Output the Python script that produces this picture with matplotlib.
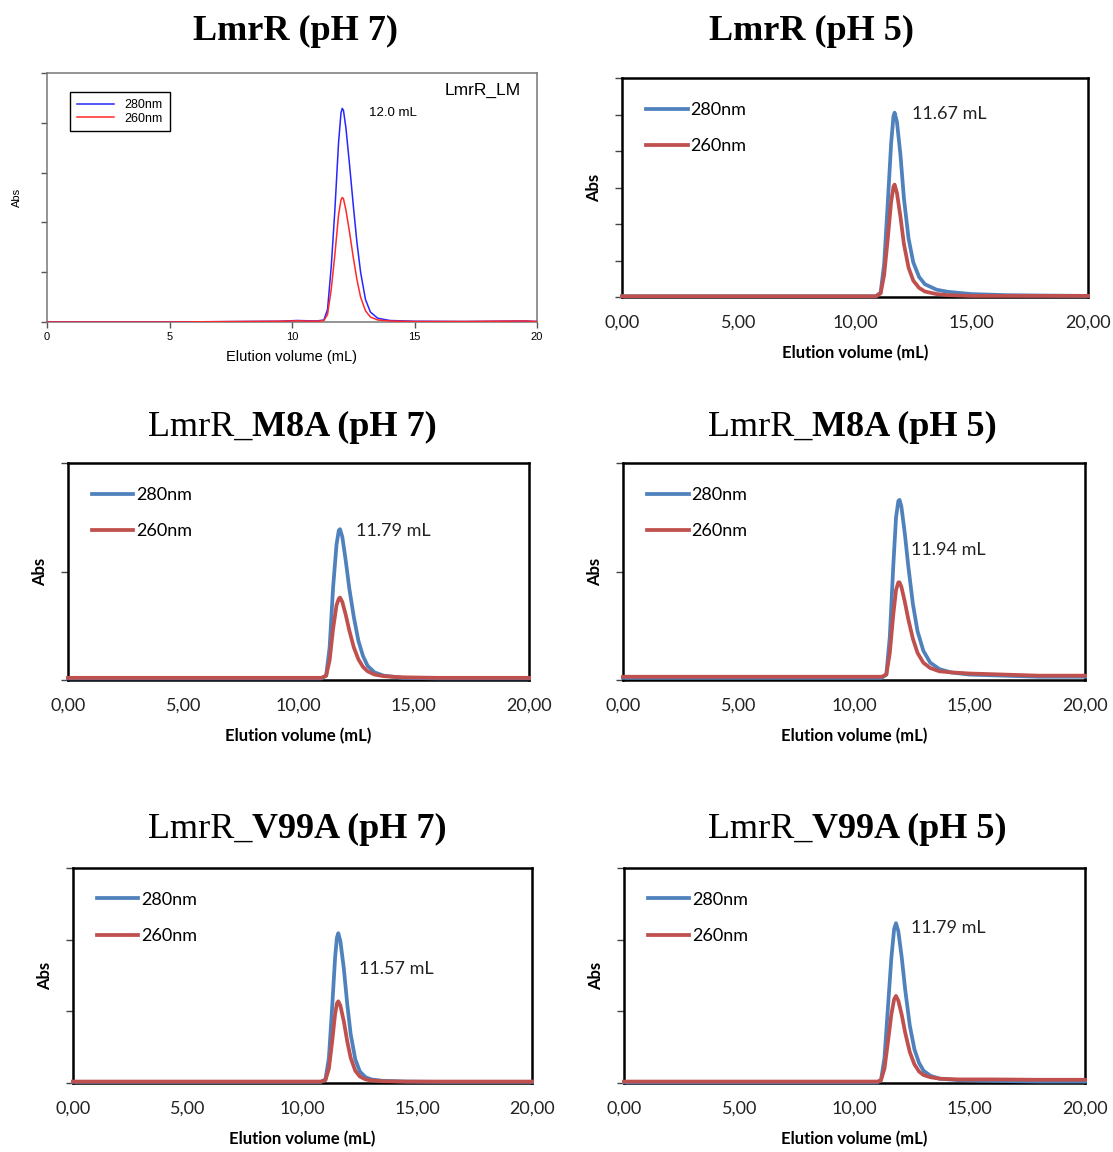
import matplotlib
matplotlib.use("Agg")
import matplotlib.pyplot as plt

W, H = 1113, 1152

# ---- data (elution volume in mL, absorbance in arbitrary units) ----

# LmrR pH 7 (instrument export, y axis 0..1)
volLM7 = [0, 5, 9.5, 10.2, 11.0, 11.3, 11.45, 11.6, 11.75, 11.9, 12.0, 12.05, 12.1, 12.2, 12.35,
          12.5, 12.65, 12.8, 13.0, 13.2, 13.5, 14.0, 15, 17, 19.5, 20]
abs280LM7 = [0.0, 0.0, 0.003, 0.006, 0.004, 0.008, 0.05, 0.22, 0.45, 0.72, 0.84, 0.858, 0.85, 0.78, 0.63,
             0.47, 0.32, 0.2, 0.09, 0.04, 0.015, 0.006, 0.003, 0.002, 0.004, 0.002]
abs260LM7 = [0.0, 0.0, 0.003, 0.005, 0.003, 0.006, 0.03, 0.13, 0.27, 0.43, 0.49, 0.5, 0.495, 0.45, 0.36,
             0.26, 0.17, 0.1, 0.045, 0.02, 0.008, 0.004, 0.002, 0.002, 0.004, 0.002]

# LmrR pH 5 (y axis 0..6)
volLM5 = [0, 5, 10, 10.9, 11.1, 11.25, 11.4, 11.55, 11.65, 11.7, 11.8, 11.95, 12.1, 12.3, 12.5,
          12.75, 13.0, 13.5, 14.0, 15.0, 16.5, 18, 20]
abs280LM5 = [0.02, 0.02, 0.02, 0.02, 0.12, 0.9, 2.5, 4.2, 4.95, 5.05, 4.8, 3.9, 2.7, 1.6, 0.95,
             0.55, 0.35, 0.2, 0.14, 0.08, 0.05, 0.04, 0.03]
abs260LM5 = [0.02, 0.02, 0.02, 0.02, 0.1, 0.6, 1.55, 2.6, 3.02, 3.08, 2.85, 2.2, 1.45, 0.8, 0.45,
             0.25, 0.15, 0.08, 0.05, 0.03, 0.03, 0.03, 0.03]

# LmrR_M8A pH 7 (y axis 0..2)
volM8A7 = [0, 5, 10, 11.0, 11.2, 11.35, 11.5, 11.65, 11.75, 11.8, 11.9, 12.05, 12.2, 12.4, 12.6,
           12.8, 13.0, 13.3, 13.7, 14.5, 16, 18, 20]
abs280M8A7 = [0.015, 0.015, 0.015, 0.015, 0.04, 0.3, 0.85, 1.25, 1.38, 1.39, 1.32, 1.1, 0.85, 0.58, 0.36,
              0.22, 0.13, 0.07, 0.04, 0.02, 0.015, 0.015, 0.015]
abs260M8A7 = [0.02, 0.02, 0.02, 0.02, 0.04, 0.18, 0.47, 0.69, 0.75, 0.76, 0.72, 0.6, 0.46, 0.3, 0.19,
              0.12, 0.08, 0.05, 0.035, 0.025, 0.02, 0.02, 0.02]

# LmrR_M8A pH 5 (y axis 0..2)
volM8A5 = [0, 5, 10, 11.2, 11.4, 11.55, 11.7, 11.82, 11.92, 11.97, 12.05, 12.2, 12.35, 12.55, 12.75,
           13.0, 13.3, 13.7, 14.2, 15, 16.5, 18, 20]
abs280M8A5 = [0.02, 0.02, 0.02, 0.02, 0.05, 0.4, 1.05, 1.5, 1.65, 1.66, 1.6, 1.35, 1.05, 0.7, 0.45,
              0.27, 0.16, 0.1, 0.07, 0.05, 0.04, 0.03, 0.03]
abs260M8A5 = [0.03, 0.03, 0.03, 0.03, 0.05, 0.25, 0.6, 0.83, 0.9, 0.9, 0.86, 0.72, 0.56, 0.38, 0.25,
              0.16, 0.11, 0.08, 0.07, 0.06, 0.05, 0.04, 0.04]

# LmrR_V99A pH 7 (y axis 0..3)
volV99A7 = [0, 5, 10, 10.8, 11.0, 11.15, 11.3, 11.42, 11.5, 11.56, 11.65, 11.8, 11.95, 12.1, 12.3,
            12.5, 12.75, 13.0, 13.5, 14.5, 16, 18, 20]
abs280V99A7 = [0.015, 0.015, 0.015, 0.015, 0.05, 0.35, 1.1, 1.75, 2.03, 2.09, 1.98, 1.6, 1.1, 0.68, 0.33,
               0.16, 0.08, 0.05, 0.03, 0.02, 0.015, 0.015, 0.015]
abs260V99A7 = [0.02, 0.02, 0.02, 0.02, 0.04, 0.2, 0.6, 0.96, 1.11, 1.14, 1.08, 0.86, 0.58, 0.35, 0.17,
               0.09, 0.05, 0.035, 0.025, 0.02, 0.02, 0.02, 0.02]

# LmrR_V99A pH 5 (y axis 0..3)
volV99A5 = [0, 5, 10, 11.0, 11.15, 11.3, 11.45, 11.6, 11.72, 11.8, 11.9, 12.05, 12.2, 12.4, 12.6,
            12.8, 13.0, 13.3, 13.7, 14.5, 16, 18, 20]
abs280V99A5 = [0.01, 0.01, 0.01, 0.01, 0.04, 0.35, 1.05, 1.75, 2.15, 2.23, 2.12, 1.75, 1.3, 0.8, 0.47,
               0.28, 0.17, 0.1, 0.06, 0.04, 0.03, 0.02, 0.02]
abs260V99A5 = [0.02, 0.02, 0.02, 0.02, 0.04, 0.2, 0.57, 0.96, 1.17, 1.215, 1.15, 0.95, 0.7, 0.43, 0.26,
               0.16, 0.11, 0.08, 0.06, 0.05, 0.05, 0.045, 0.045]

waveLabels = ['280nm', '260nm']
xTicks = [0, 5, 10, 15, 20]
xTickLabelsLM = ['0', '5', '10', '15', '20']
xTickLabelsExcel = ['0,00', '5,00', '10,00', '15,00', '20,00']
peakLabels = ['12.0 mL', '11.67 mL', '11.79 mL', '11.94 mL', '11.57 mL', '11.79 mL']

SANS = 'Liberation Sans'
EXCEL = 'Lato'
SERIF = 'Liberation Serif'
BLUE_XL = '#4F81BD'
RED_XL = '#C0504D'


#axes rectangle from pixel edges of the reference
def figRect(left, right, top, bottom):
    return [left / W, 1 - bottom / H, (right - left) / W, (bottom - top) / H]


#title made of regular / bold pieces, starting at pixel x, baseline at pixel y
def drawTitle(fig, x, y, parts):
    prev = fig.text(x / W, 1 - y / H, parts[0][0], fontsize=26, family=SERIF,
                    fontweight=parts[0][1], va='baseline', ha='left')
    for text, weight in parts[1:]:
        prev = fig.axes[0].annotate(text, xy=(1, 0), xycoords=prev, fontsize=26, family=SERIF,
                                    fontweight=weight, va='bottom', ha='left', annotation_clip=False)


#first panel: exported straight from the instrument software
def plotInstrumentPanel(fig, rect, vol, a280, a260, peakLabel):
    ax = fig.add_axes(rect)
    ax.plot(vol, a280, color='#2626ff', lw=1.1, label=waveLabels[0], zorder=3)
    ax.plot(vol, a260, color='#ff2a2a', lw=1.1, label=waveLabels[1], zorder=3)
    ax.set_xlim(0, 20)
    ax.set_ylim(0, 1)
    ax.set_xticks(xTicks)
    ax.set_xticklabels(xTickLabelsLM, family=SANS, fontsize=8)
    ax.set_yticks([0, 0.2, 0.4, 0.6, 0.8, 1.0])
    ax.set_yticklabels([])
    ax.tick_params(direction='out', length=4, width=1, color='#555555', pad=3)
    for s in ax.spines.values():
        s.set_color('#777777')
        s.set_linewidth(1.1)
    ax.set_xlabel('Elution volume (mL)', family=SANS, fontsize=10.5, labelpad=6)
    ax.set_ylabel('Abs', family=SANS, fontsize=8, labelpad=11)
    leg = ax.legend(loc='upper left', bbox_to_anchor=(0.047, 0.922), prop={'family': SANS, 'size': 9},
                    frameon=True, fancybox=False, edgecolor='black', framealpha=1,
                    handlelength=3.0, handletextpad=0.8, labelspacing=0.1, borderpad=0.55,
                    borderaxespad=0)
    leg.get_frame().set_linewidth(1.0)
    ax.text(0.657, 0.84, peakLabel, transform=ax.transAxes, family=SANS, fontsize=9.5,
            va='center', ha='left')
    ax.text(0.967, 0.928, 'LmrR_LM', transform=ax.transAxes, family=SANS, fontsize=12.5,
            va='center', ha='right')
    return ax


#remaining panels: re-plotted in a spreadsheet program
def plotExcelPanel(fig, rect, vol, a280, a260, yMax, peakLabel, labelPos):
    ax = fig.add_axes(rect)
    ax.plot(vol, a280, color=BLUE_XL, lw=2.7, label=waveLabels[0], zorder=3, clip_on=False,
            solid_joinstyle='round')
    ax.plot(vol, a260, color=RED_XL, lw=2.7, label=waveLabels[1], zorder=3, clip_on=False,
            solid_joinstyle='round')
    ax.set_xlim(0, 20)
    ax.set_ylim(0, yMax)
    ax.set_xticks(xTicks)
    ax.set_xticklabels(xTickLabelsExcel, family=EXCEL, fontsize=13)
    ax.set_yticks(range(0, yMax + 1))
    ax.set_yticklabels([])
    ax.tick_params(axis='x', length=0, pad=13, colors='#222222')
    ax.tick_params(axis='y', direction='out', length=5, width=1, color='#444444')
    for s in ax.spines.values():
        s.set_color('black')
        s.set_linewidth(1.8)
    ax.set_xlabel('Elution volume (mL)', family=EXCEL, fontsize=12, fontweight='bold', labelpad=10)
    ax.set_ylabel('Abs', family=EXCEL, fontsize=12, fontweight='bold', labelpad=6)
    ax.legend(loc='upper left', bbox_to_anchor=(0.052, 0.89), prop={'family': EXCEL, 'size': 13},
              frameon=False, handlelength=2.3, handletextpad=0.15, labelspacing=1.12,
              borderpad=0, borderaxespad=0)
    ax.text(labelPos[0], labelPos[1], peakLabel, transform=ax.transAxes, family=EXCEL,
            fontsize=13, va='center', ha='left', color='#222222')
    return ax


fig = plt.figure(figsize=(W / 100, H / 100), dpi=100)

plotInstrumentPanel(fig, figRect(47, 537, 73, 322), volLM7, abs280LM7, abs260LM7, peakLabels[0])
plotExcelPanel(fig, figRect(622, 1088, 78, 297), volLM5, abs280LM5, abs260LM5, 6,
               peakLabels[1], (0.622, 0.836))
plotExcelPanel(fig, figRect(68, 529, 463, 680), volM8A7, abs280M8A7, abs260M8A7, 2,
               peakLabels[2], (0.625, 0.687))
plotExcelPanel(fig, figRect(623, 1085, 463, 680), volM8A5, abs280M8A5, abs260M8A5, 2,
               peakLabels[3], (0.623, 0.60))
plotExcelPanel(fig, figRect(73, 532, 868, 1083), volV99A7, abs280V99A7, abs260V99A7, 3,
               peakLabels[4], (0.623, 0.53))
plotExcelPanel(fig, figRect(624, 1085, 868, 1083), volV99A5, abs280V99A5, abs260V99A5, 3,
               peakLabels[5], (0.623, 0.72))

drawTitle(fig, 193, 40, [('LmrR (pH 7)', 'bold')])
drawTitle(fig, 709, 40, [('LmrR (pH 5)', 'bold')])
drawTitle(fig, 148, 436, [('LmrR_', 'normal'), ('M8A (pH 7)', 'bold')])
drawTitle(fig, 708, 436, [('LmrR_', 'normal'), ('M8A (pH 5)', 'bold')])
drawTitle(fig, 148, 838, [('LmrR_', 'normal'), ('V99A (pH 7)', 'bold')])
drawTitle(fig, 708, 838, [('LmrR_', 'normal'), ('V99A (pH 5)', 'bold')])

fig.savefig('out.png', dpi=100)
